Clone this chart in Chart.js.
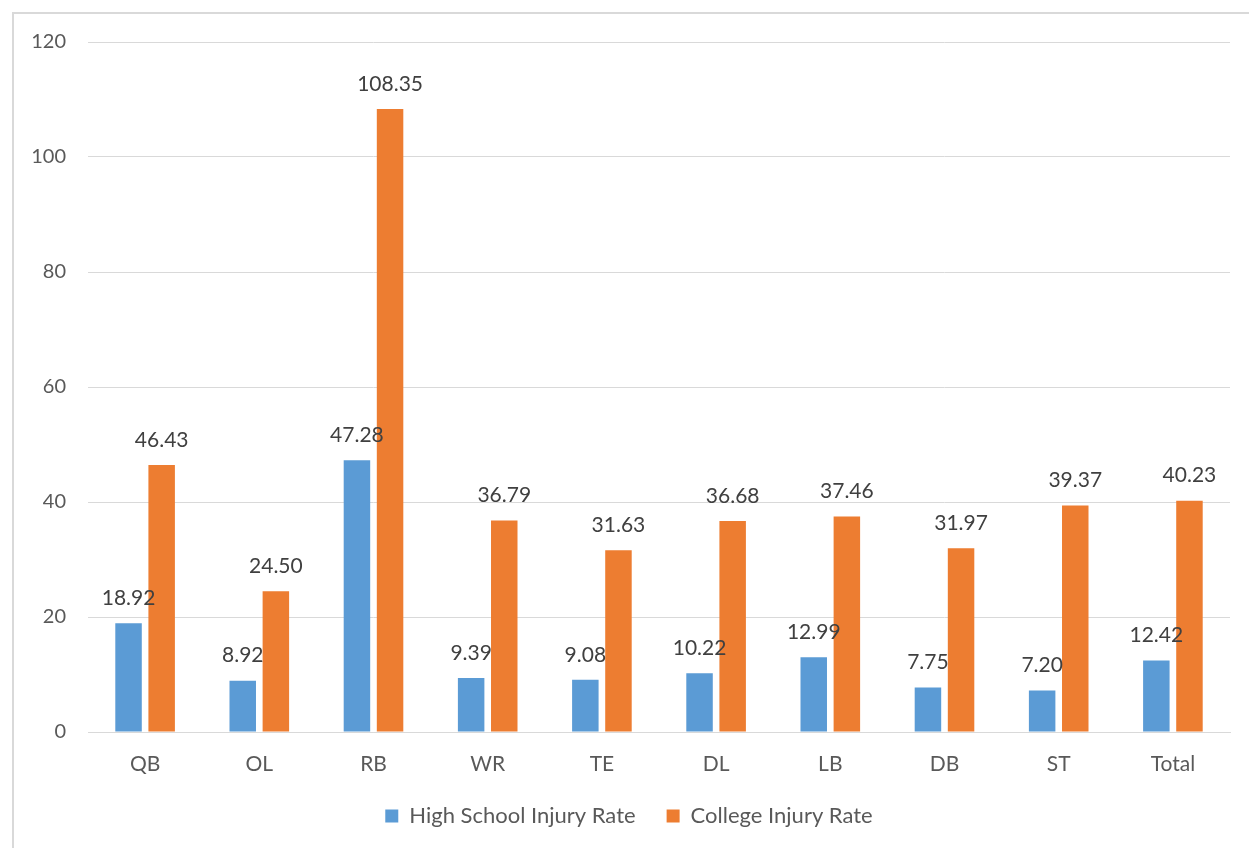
<!DOCTYPE html>
<html>
<head>
<meta charset="utf-8">
<script src="https://cdn.jsdelivr.net/npm/chart.js@4.4.1/dist/chart.umd.min.js"></script>
<style>
  html, body { margin: 0; padding: 0; background: #fff; overflow: hidden; }
  #frame { position: absolute; left: 12px; top: 12px; width: 1300px; height: 900px; border: 2px solid #d9d9d9; }
  #wrap { position: absolute; left: 0; top: 0; width: 1249px; height: 848px; }
</style>
</head>
<body>
<div id="frame"></div>
<div id="wrap"><canvas id="chart"></canvas></div>
<script>
const positions = ['QB', 'OL', 'RB', 'WR', 'TE', 'DL', 'LB', 'DB', 'ST', 'Total'];
const highSchoolRate = [18.92, 8.92, 47.28, 9.39, 9.08, 10.22, 12.99, 7.75, 7.20, 12.42];
const collegeRate = [46.43, 24.50, 108.35, 36.79, 31.63, 36.68, 37.46, 31.97, 39.37, 40.23];
const yTicks = [0, 20, 40, 60, 80, 100, 120];

const FONT = 'Lato, "Open Sans", sans-serif';

// value labels above each bar
const barLabels = {
  id: 'barLabels',
  afterDatasetsDraw(chart) {
    const ctx = chart.ctx;
    ctx.save();
    ctx.font = '21px ' + FONT;
    ctx.fillStyle = '#404040';
    ctx.textAlign = 'center';
    ctx.textBaseline = 'middle';
    chart.data.datasets.forEach((ds, i) => {
      chart.getDatasetMeta(i).data.forEach((bar, j) => {
        ctx.fillText(ds.data[j].toFixed(2), bar.x, bar.y - 25);
      });
    });
    ctx.restore();
  },
};

new Chart(document.getElementById('chart'), {
  type: 'bar',
  data: {
    labels: positions,
    datasets: [
      {
        label: 'High School Injury Rate',
        data: highSchoolRate,
        backgroundColor: '#5B9BD5',
        barPercentage: 0.8,
        categoryPercentage: 0.58,
      },
      {
        label: 'College Injury Rate',
        data: collegeRate,
        backgroundColor: '#ED7D31',
        barPercentage: 0.8,
        categoryPercentage: 0.58,
      },
    ],
  },
  options: {
    responsive: true,
    maintainAspectRatio: false,
    animation: false,
    layout: {
      padding: { top: 42, right: 19, left: 28, bottom: 11 },
    },
    plugins: {
      legend: {
        position: 'bottom',
        labels: {
          font: { size: 22, family: FONT },
          color: '#595959',
          boxWidth: 13,
          boxHeight: 13,
          padding: 31,
        },
      },
      tooltip: { enabled: false },
    },
    scales: {
      x: {
        grid: { display: false, drawTicks: false },
        border: { color: '#d9d9d9', width: 1 },
        afterFit: (scale) => {
          scale.height = 42;
        },
        ticks: {
          font: { size: 21, family: FONT },
          color: '#595959',
          padding: 20,
          maxRotation: 0,
        },
      },
      y: {
        min: 0,
        max: 120,
        afterBuildTicks: (scale) => {
          scale.ticks = yTicks.map((v) => ({ value: v }));
        },
        afterFit: (scale) => {
          scale.width = 60;
        },
        grid: { color: '#d9d9d9', lineWidth: 1, drawTicks: false },
        border: { display: false },
        ticks: {
          font: { size: 20, family: FONT },
          color: '#595959',
          padding: 22,
        },
      },
    },
  },
  plugins: [barLabels],
});
</script>
</body>
</html>
